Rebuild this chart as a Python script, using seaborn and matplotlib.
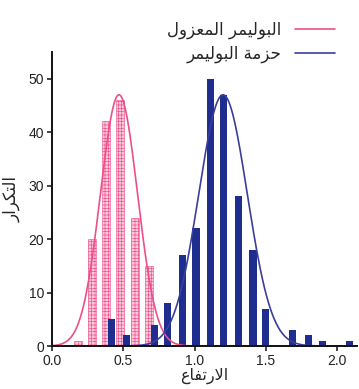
import numpy as np
import pandas as pd
import matplotlib
matplotlib.use('Agg')
import matplotlib.pyplot as plt
import seaborn as sns

# ---- data ----
isolated_x = [0.18, 0.28, 0.38, 0.48, 0.58, 0.68]
isolated_h = [1, 20, 42, 46, 24, 15]

bundle_x = [0.42, 0.52, 0.72, 0.81, 0.915, 1.01, 1.11, 1.205, 1.31, 1.41, 1.50, 1.69, 1.80, 1.90, 2.09]
bundle_h = [5, 2, 4, 8, 17, 22, 50, 47, 28, 18, 7, 3, 2, 1, 1]

# fitted normal curves (mean, sd, peak)
iso_mu, iso_sd, iso_peak = 0.47, 0.13, 47
bun_mu, bun_sd, bun_peak = 1.20, 0.17, 47

label_iso = "البوليمر المعزول"
label_bun = "حزمة البوليمر"
xlabel = "الارتفاع"
ylabel = "التكرار"

# ---- tiny arabic shaper (matplotlib does no shaping / bidi) ----
FORMS = {
    'ا': (0xFE8D, 0xFE8E, None, None),
    'ب': (0xFE8F, 0xFE90, 0xFE91, 0xFE92),
    'ة': (0xFE93, 0xFE94, None, None),
    'ت': (0xFE95, 0xFE96, 0xFE97, 0xFE98),
    'ح': (0xFEA1, 0xFEA2, 0xFEA3, 0xFEA4),
    'ر': (0xFEAD, 0xFEAE, None, None),
    'ز': (0xFEAF, 0xFEB0, None, None),
    'ع': (0xFEC9, 0xFECA, 0xFECB, 0xFECC),
    'ف': (0xFED1, 0xFED2, 0xFED3, 0xFED4),
    'ك': (0xFED9, 0xFEDA, 0xFEDB, 0xFEDC),
    'ل': (0xFEDD, 0xFEDE, 0xFEDF, 0xFEE0),
    'م': (0xFEE1, 0xFEE2, 0xFEE3, 0xFEE4),
    'و': (0xFEED, 0xFEEE, None, None),
    'ي': (0xFEF1, 0xFEF2, 0xFEF3, 0xFEF4),
}


def dual(c):
    return c in FORMS and FORMS[c][2] is not None


def shape(text):
    out = []
    i = 0
    n = len(text)
    while i < n:
        c = text[i]
        if c not in FORMS:
            out.append(c)
            i += 1
            continue
        prev_join = i > 0 and dual(text[i - 1])
        if c == 'ل' and i + 1 < n and text[i + 1] == 'ا':
            out.append(chr(0xFEFC if prev_join else 0xFEFB))
            i += 2
            continue
        next_join = dual(c) and i + 1 < n and text[i + 1] in FORMS
        iso, fin, ini, med = FORMS[c]
        if prev_join and next_join:
            g = med
        elif prev_join:
            g = fin
        elif next_join:
            g = ini
        else:
            g = iso
        out.append(chr(g))
        i += 1
    return ''.join(out)[::-1]


# ---- style ----
sns.set_style('ticks')
plt.rcParams['font.family'] = ['Liberation Sans', 'DejaVu Sans']
ar_font = ['DejaVu Sans']

pink = '#ec4f8a'
pink_fill = '#fbc9da'
navy = '#1e2d8e'
navy_line = '#3a3f9c'

fig = plt.figure(figsize=(3.59, 3.89), dpi=100)
ax = fig.add_axes([52 / 359, 43 / 389, 305 / 359, 294 / 389])

df_iso = pd.DataFrame({'x': isolated_x, 'h': isolated_h})
df_bun = pd.DataFrame({'x': bundle_x, 'h': bundle_h})

plt.rcParams['hatch.linewidth'] = 0.45
sns.barplot(data=df_iso, x='x', y='h', native_scale=True,
            width=0.055 / np.diff(np.sort(isolated_x)).min(),
            color=pink_fill, saturation=1, edgecolor=pink, linewidth=0.4,
            hatch='+++++', errorbar=None, ax=ax)
sns.barplot(data=df_bun, x='x', y='h', native_scale=True,
            width=0.05 / np.diff(np.sort(bundle_x)).min(),
            color=navy, saturation=1, linewidth=0, errorbar=None, ax=ax)

xs = np.linspace(0, 2.14, 400)
sns.lineplot(x=xs, y=iso_peak * np.exp(-(xs - iso_mu) ** 2 / (2 * iso_sd ** 2)),
             color=pink, lw=1.2, ax=ax, label=shape(label_iso))
sns.lineplot(x=xs, y=bun_peak * np.exp(-(xs - bun_mu) ** 2 / (2 * bun_sd ** 2)),
             color=navy_line, lw=1.2, ax=ax, label=shape(label_bun))

ax.set_xlim(0, 2.14)
ax.set_ylim(0, 55)
ax.set_xticks([0.0, 0.5, 1.0, 1.5, 2.0])
ax.set_xticklabels(['0.0', '0.5', '1.0', '1.5', '2.0'])
ax.set_yticks([0, 10, 20, 30, 40, 50])
ax.tick_params(labelsize=10, length=3.5, width=1.2, colors='#222222', pad=2)
for s in ['left', 'bottom']:
    ax.spines[s].set_linewidth(1.4)
    ax.spines[s].set_color('#111111')
sns.despine(ax=ax)

ax.set_xlabel(shape(xlabel), family=ar_font, fontsize=11.5, labelpad=0)
ax.set_ylabel(shape(ylabel), family=ar_font, fontsize=12, labelpad=6)

handles, labels = ax.get_legend_handles_labels()
ax.legend_.remove()
fig.legend(handles, labels, loc='upper right', bbox_to_anchor=(350 / 359, 1 - 6 / 389),
           frameon=False, markerfirst=False, handlelength=2.4, labelspacing=0.35,
           prop={'family': ar_font, 'size': 12})

fig.savefig('out.png', dpi=100, facecolor='white')
